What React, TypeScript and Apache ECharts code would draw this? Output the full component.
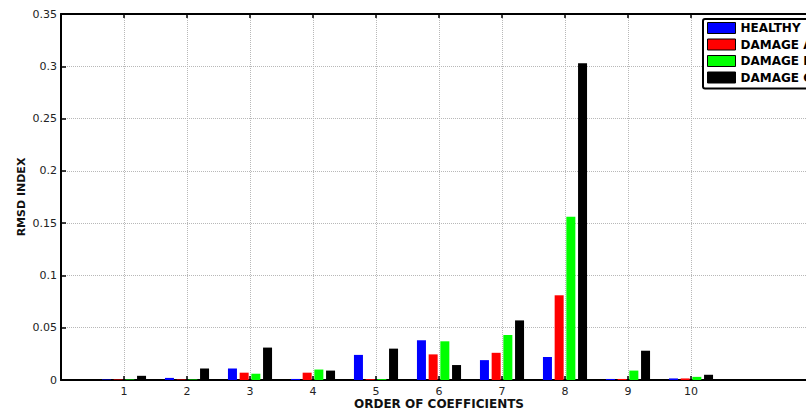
import React, { useEffect, useRef } from "react";
import * as echarts from "echarts";

const CATEGORIES = ["1", "2", "3", "4", "5", "6", "7", "8", "9", "10"];
const SERIES_NAMES = ["HEALTHY", "DAMAGE A", "DAMAGE B", "DAMAGE C"];
const HEALTHY = [0.0005, 0.002, 0.011, 0.001, 0.024, 0.038, 0.019, 0.022, 0.001, 0.0015];
const DAMAGE_A = [0.0005, 0.0005, 0.007, 0.007, 0.0008, 0.0245, 0.026, 0.081, 0.001, 0.0015];
const DAMAGE_B = [0.0005, 0.0005, 0.006, 0.01, 0.0008, 0.037, 0.043, 0.156, 0.009, 0.003];
const DAMAGE_C = [0.004, 0.011, 0.031, 0.009, 0.03, 0.0143, 0.057, 0.303, 0.028, 0.005];
const COLORS = ["#0000ff", "#ff0000", "#00ff00", "#000000"];
const Y_MIN = 0;
const Y_MAX = 0.35;
const Y_STEP = 0.05;

export default function App() {
  const ref = useRef<HTMLDivElement>(null);
  useEffect(() => {
    if (!ref.current) return;
    const chart = echarts.init(ref.current, undefined, { renderer: "svg" });
    // axis slots: empty slot 0 before the first group, two after the last
    const slots = ["0", ...CATEGORIES, "11", "12"];
    const shown = (i: number) => i >= 1 && i <= CATEGORIES.length;
    const pad = (vals: number[]) => [null, ...vals, null, null];
    const allData = [HEALTHY, DAMAGE_A, DAMAGE_B, DAMAGE_C];
    const font = "DejaVu Sans";
    const option: any = {
      animation: false,
      backgroundColor: "#ffffff",
      grid: { left: 61, top: 14, bottom: 31, right: -11, containLabel: false, outerBoundsMode: "none" },
      legend: {
        left: 703,
        top: 19,
        orient: "vertical",
        padding: [3, 10, 5, 4],
        itemWidth: 28,
        itemHeight: 11,
        itemGap: 4.5,
        icon: "rect",
        backgroundColor: "#ffffff",
        borderColor: "#000000",
        borderWidth: 2,
        borderRadius: 2,
        selectedMode: false,
        textStyle: { fontFamily: font, fontWeight: "bold", fontSize: 12, lineHeight: 12, color: "#000000" },
        data: SERIES_NAMES.map((n) => ({ name: n, itemStyle: { borderColor: "#000000", borderWidth: 1 } })),
      },
      xAxis: [
        {
          type: "category",
          data: slots,
          boundaryGap: false,
          name: "ORDER OF COEFFICIENTS",
          nameLocation: "middle",
          nameGap: 18,
          nameMoveOverlap: false,
          nameTextStyle: { fontFamily: font, fontWeight: "bold", fontSize: 12, lineHeight: 12, color: "#111" },
          axisLine: { lineStyle: { color: "#000", width: 2 } },
          axisTick: { inside: true, length: 4, interval: (i: number) => shown(i), lineStyle: { color: "#000", width: 1.5 } },
          axisLabel: { interval: (i: number) => shown(i), margin: 6, fontFamily: font, fontSize: 11, color: "#222" },
          splitLine: { show: true, interval: (i: number) => shown(i), lineStyle: { color: "#b8b8b8", type: "dotted", width: 1 } },
        },
        {
          type: "category",
          data: slots,
          boundaryGap: false,
          position: "top",
          axisLine: { lineStyle: { color: "#000", width: 2 } },
          axisTick: { inside: true, length: 4, interval: (i: number) => shown(i), lineStyle: { color: "#000", width: 1.5 } },
          axisLabel: { show: false },
          splitLine: { show: false },
        },
      ],
      yAxis: {
        type: "value",
        min: Y_MIN,
        max: Y_MAX,
        interval: Y_STEP,
        name: "RMSD INDEX",
        nameLocation: "middle",
        nameGap: 34,
        nameMoveOverlap: false,
        nameTextStyle: { fontFamily: font, fontWeight: "bold", fontSize: 11, color: "#111" },
        axisLine: { show: true, lineStyle: { color: "#000", width: 2 } },
        axisTick: { show: true, inside: true, length: 5, lineStyle: { color: "#000", width: 1.5 } },
        axisLabel: { margin: 4, fontFamily: font, fontSize: 11, color: "#222", formatter: (v: number) => String(parseFloat(v.toFixed(2))) },
        splitLine: { show: true, lineStyle: { color: "#b8b8b8", type: "dotted", width: 1 } },
      },
      series: SERIES_NAMES.map((n, k) => ({
        name: n,
        type: "bar",
        xAxisIndex: 0,
        data: pad(allData[k]),
        barWidth: 9,
        barGap: "30%",
        itemStyle: { color: COLORS[k] },
      })),
    };
    chart.setOption(option);
    return () => chart.dispose();
  }, []);
  return <div ref={ref} style={{ position: "fixed", left: 0, top: 0, width: 806, height: 411, background: "#fff" }} />;
}
